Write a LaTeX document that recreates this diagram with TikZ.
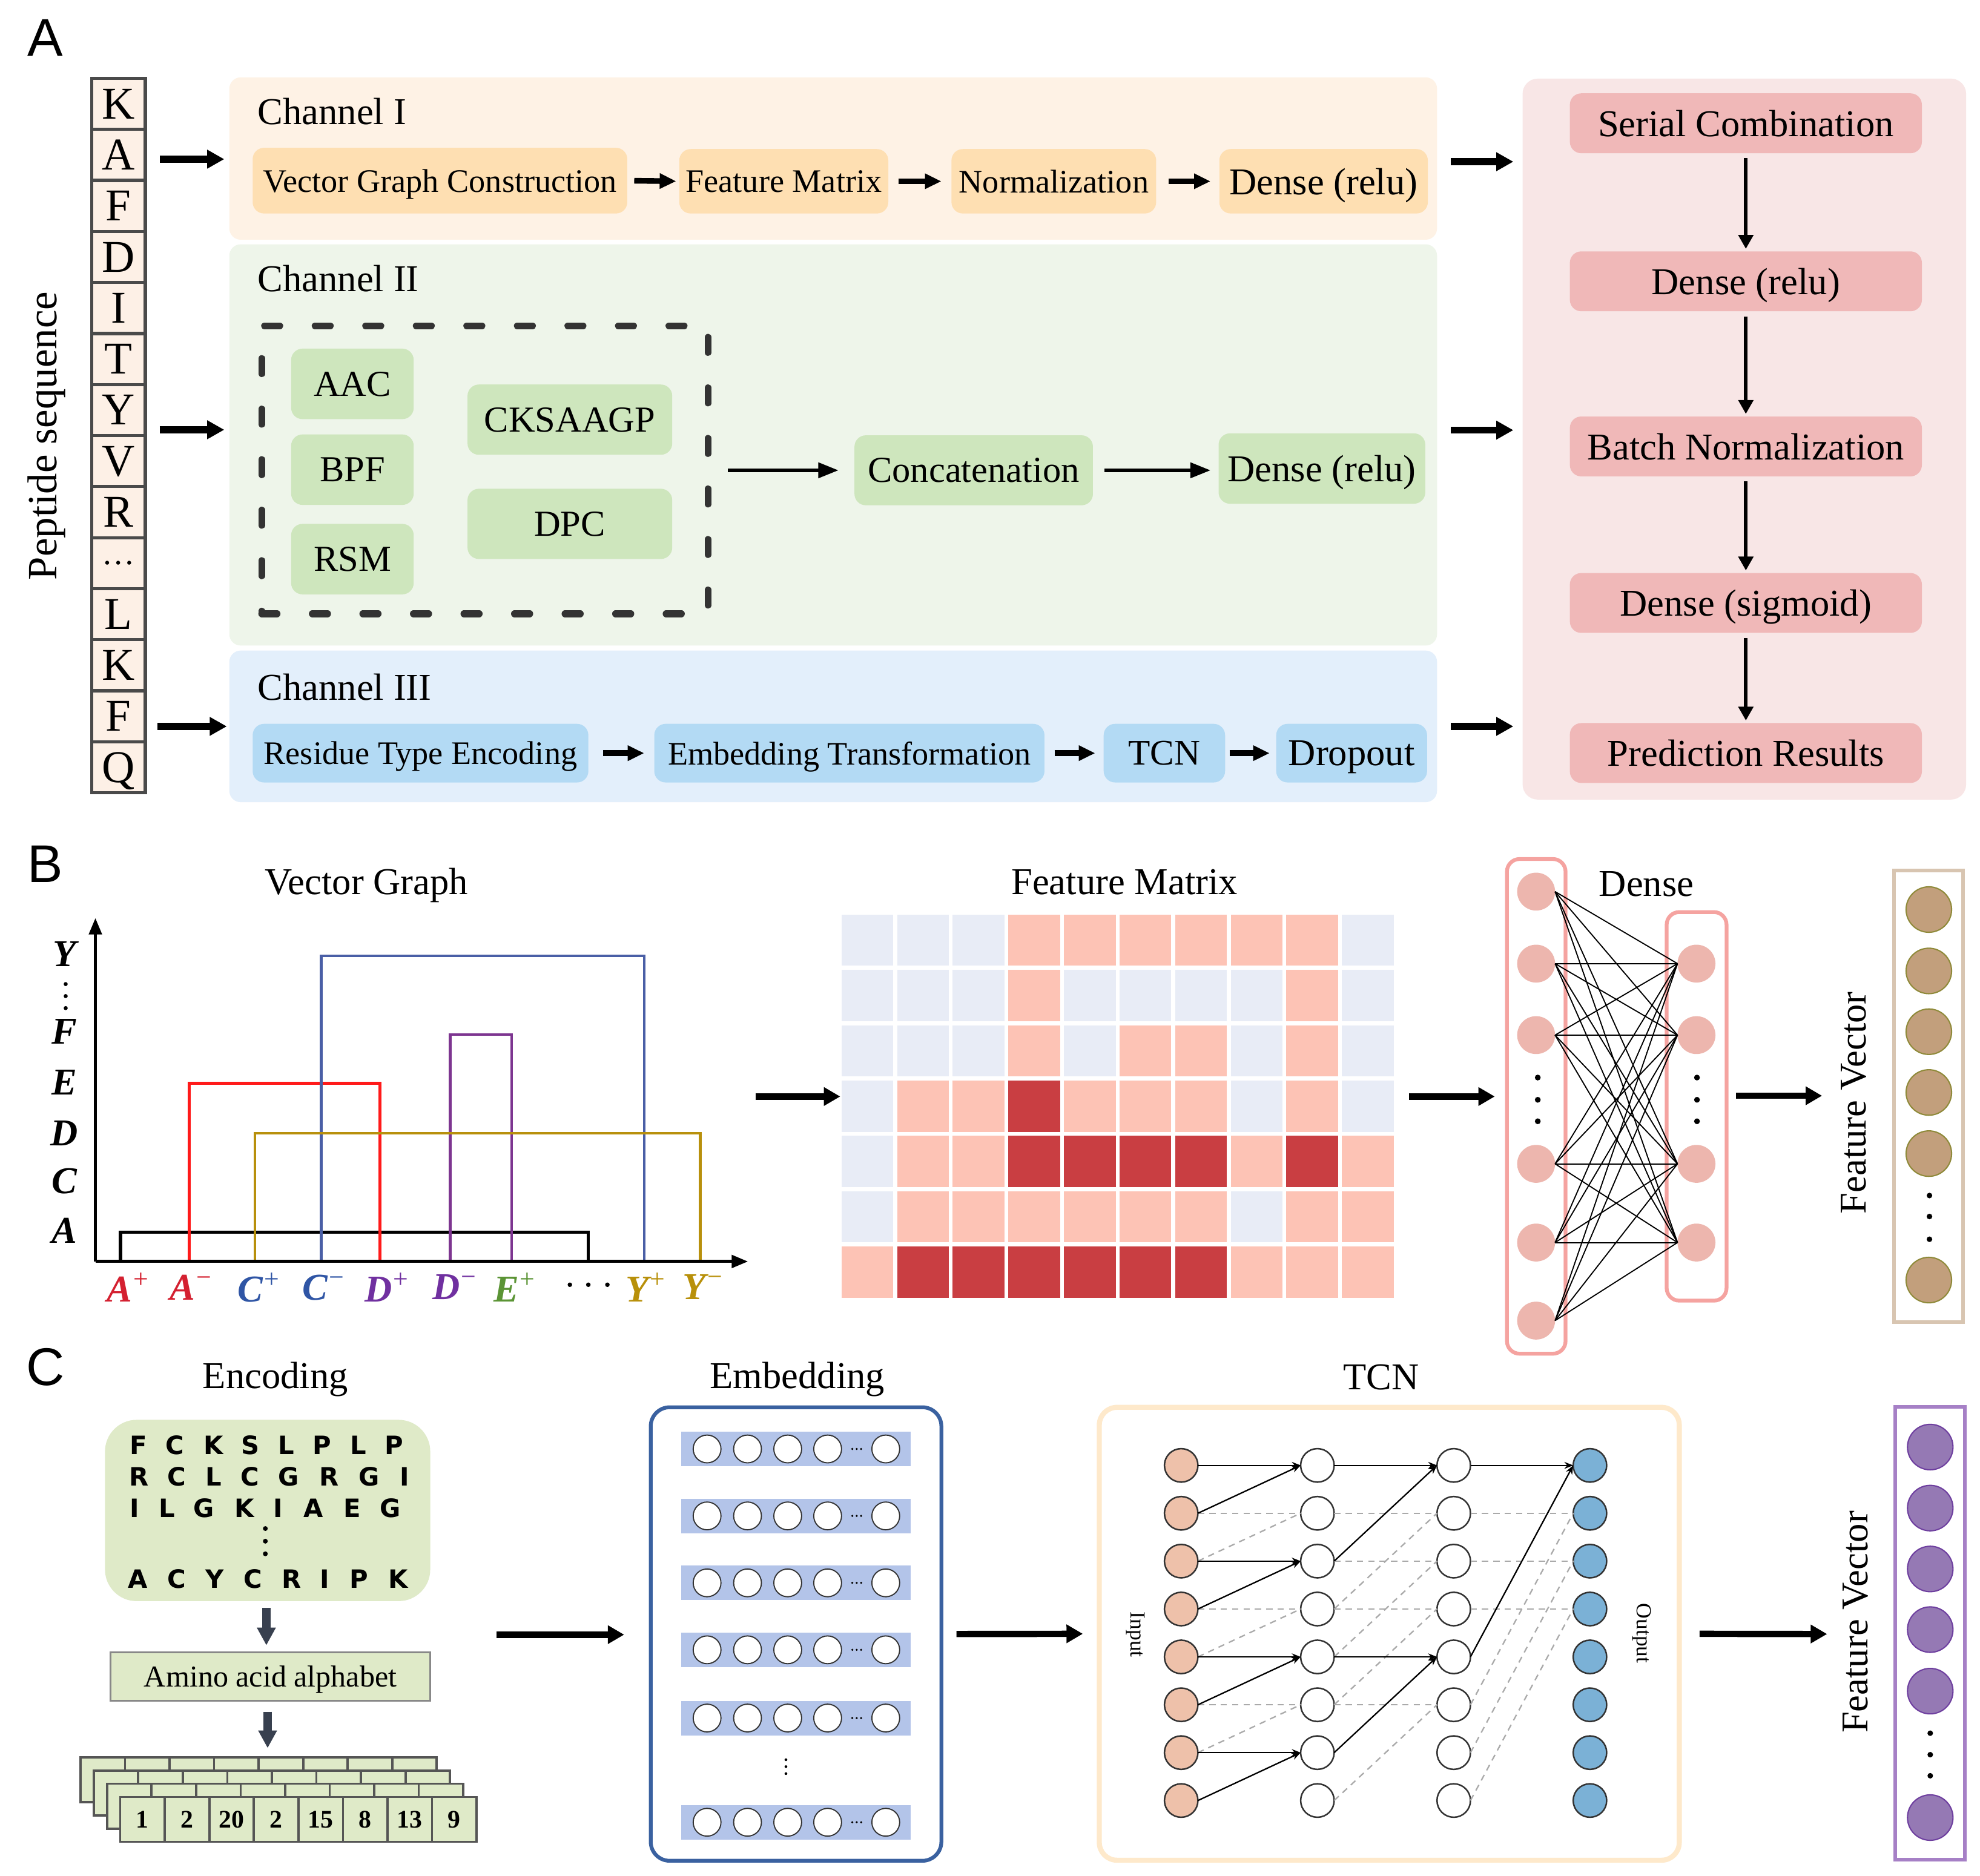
\documentclass[tikz,border=0pt]{standalone}
\usepackage{fontspec}
\setmainfont{Liberation Serif}
\newfontfamily\labelfont{Liberation Sans}
\newfontfamily\encfont{DejaVu Sans}
\usetikzlibrary{arrows.meta,calc}
\newcommand{\fsz}[1]{\fontsize{#1}{#1}\selectfont}
\definecolor{pepfill}{HTML}{FDF0E6}
\definecolor{pepdraw}{HTML}{4A4A4A}
\definecolor{chAbg}{HTML}{FEF2E5}
\definecolor{chAbox}{HTML}{FEDFB2}
\definecolor{chBbg}{HTML}{EEF5EA}
\definecolor{chBbox}{HTML}{CEE6BD}
\definecolor{chCbg}{HTML}{E3EFFB}
\definecolor{chCbox}{HTML}{B3DAF4}
\definecolor{rpbg}{HTML}{F8E6E6}
\definecolor{rpbox}{HTML}{F0B8B8}
\definecolor{dashc}{HTML}{333333}
\definecolor{mL}{HTML}{E8ECF6}
\definecolor{mS}{HTML}{FDC3B5}
\definecolor{mR}{HTML}{C93E42}
\definecolor{dcirc}{HTML}{EDB6AE}
\definecolor{dbox}{HTML}{F5A3A0}
\definecolor{fvbox}{HTML}{D8C5B1}
\definecolor{fvcirc}{HTML}{C29F7C}
\definecolor{fvedge}{HTML}{8F8A3A}
\definecolor{encg}{HTML}{DFEAC8}
\definecolor{slate}{HTML}{38404F}
\definecolor{embc}{HTML}{3A61A0}
\definecolor{embband}{HTML}{B3C4E9}
\definecolor{tcnc}{HTML}{FEE9CB}
\definecolor{tcnin}{HTML}{EEC1AA}
\definecolor{tcnout}{HTML}{7BB1D6}
\definecolor{tcnedge}{HTML}{333333}
\definecolor{pvbox}{HTML}{A680C6}
\definecolor{pvfill}{HTML}{9579B4}
\definecolor{pvedge}{HTML}{6E3F9F}
\definecolor{vgred}{HTML}{FF1A1A}
\definecolor{vggold}{HTML}{B8900C}
\definecolor{vgblue}{HTML}{4A5FA6}
\definecolor{vgpurp}{HTML}{7D3590}
\definecolor{lbred}{HTML}{D42030}
\definecolor{lbblue}{HTML}{2F55A5}
\definecolor{lbpurp}{HTML}{7030A0}
\definecolor{lbgreen}{HTML}{5B9435}
\definecolor{lbgold}{HTML}{B8900A}
\definecolor{cardd}{HTML}{555555}
\definecolor{alphd}{HTML}{888888}
\definecolor{dashg}{HTML}{AAAAAA}
\begin{document}
\begin{tikzpicture}[x=1pt,y=-1pt,
  every node/.style={inner sep=0pt,outer sep=0pt},
  rbox/.style={rounded corners=9pt,text depth=0pt},
  pepcell/.style={draw=pepdraw,line width=2.5pt,fill=pepfill,minimum width=42.5pt,minimum height=40.4pt,text depth=0pt,font=\fsz{36}},
  bigarr/.style={line width=5.5pt,-{Triangle[length=13.5pt,width=14pt]}},
  smarr/.style={line width=4.5pt,-{Triangle[length=13pt,width=11.5pt]}},
  thinarr/.style={line width=2.6pt,-{Triangle[length=16pt,width=12pt]}},
  varr/.style={line width=3pt,-{Triangle[length=11pt,width=11.5pt]}},
  secarr/.style={line width=5pt,-{Triangle[length=13pt,width=14pt]}},
  darr/.style={line width=6.5pt,slate,-{Triangle[length=14pt,width=14pt]}},
  solidedge/.style={line width=1.1pt,-{Stealth[length=7pt,width=5.5pt]}},
  dashedge/.style={line width=1.1pt,dashg,dash pattern=on 5pt off 4pt},
  tnode/.style={circle,draw=tcnedge,line width=1.2pt,minimum size=26.5pt},
]
\useasboundingbox (0,0) rectangle (1567,1485);
\fill[white] (0,0) rectangle (1567,1485);

% ================= A =================
\node[font=\labelfont\fsz{42}] (labA) at (36,30) {A};
\foreach \l [count=\i from 0] in {K,A,F,D,I,T,Y,V,R}{
  \node[pepcell] (pep\i) at (93.8,{82.2+40.4*\i}) {\l};
}
\node[pepcell] (pep9) at (93.8,{82.2+40.4*9}) {};
\node[font=\fsz{26}] (pepdots) at (pep9.center) {…};
\foreach \l [count=\i from 10] in {L,K,F,Q}{
  \node[pepcell] (pep\i) at (93.8,{82.2+40.4*\i}) {\l};
}
\node[rotate=90,font=\fsz{33}] (pepname) at (37,345) {Peptide sequence};

\node[fill=chAbg,rbox,minimum width=955.8pt,minimum height=128.5pt] (ch1) at (659.4,125.5) {};
\node[fill=chBbg,rbox,minimum width=955.8pt,minimum height=317.6pt] (ch2) at (659.4,352.2) {};
\node[fill=chCbg,rbox,minimum width=955.8pt,minimum height=120pt] (ch3) at (659.4,575) {};
\node[fill=rpbg,rounded corners=12pt,minimum width=351pt,minimum height=570.7pt] (rp) at (1380.5,347.6) {};
\node[anchor=west,font=\fsz{30}] (ch1t) at (204,88) {Channel I};
\node[anchor=west,font=\fsz{30}] (ch2t) at (204,220.6) {Channel II};
\node[anchor=west,font=\fsz{30}] (ch3t) at (204,544) {Channel III};

% channel I
\node[fill=chAbox,rbox,minimum width=296.5pt,minimum height=52pt,font=\fsz{26}] (vgc) at (348.2,143) {Vector Graph Construction};
\node[fill=chAbox,rbox,minimum width=165.4pt,minimum height=51pt,font=\fsz{26}] (fm) at (620.3,143.5) {Feature Matrix};
\node[fill=chAbox,rbox,minimum width=162pt,minimum height=51pt,font=\fsz{26}] (nrm) at (834,143.5) {Normalization};
\node[fill=chAbox,rbox,minimum width=165pt,minimum height=51pt,font=\fsz{30}] (dA) at (1047.5,143.5) {Dense (relu)};
\draw[smarr,shorten <=5.5pt,shorten >=2.5pt] (vgc.east) -- (fm.west);
\draw[smarr,shorten <=8pt,shorten >=8pt] (fm.east) -- (nrm.west);
\draw[smarr,shorten <=10pt,shorten >=7pt] (nrm.east) -- (dA.west);

% channel II
\node[draw=dashc,line width=5.5pt,dash pattern=on 12pt off 28pt,line cap=round,minimum width=353.2pt,minimum height=227.8pt] (dbox) at (383.8,371.9) {};
\node[fill=chBbox,rbox,minimum width=97pt,minimum height=55.8pt,font=\fsz{29}] (aac) at (278.9,303.9) {AAC};
\node[fill=chBbox,rbox,minimum width=97pt,minimum height=55.8pt,font=\fsz{29}] (bpf) at (278.9,371.8) {BPF};
\node[fill=chBbox,rbox,minimum width=97pt,minimum height=55.8pt,font=\fsz{29}] (rsm) at (278.9,442.6) {RSM};
\node[fill=chBbox,rbox,minimum width=162pt,minimum height=55.6pt,font=\fsz{29}] (cks) at (451,332.2) {CKSAAGP};
\node[fill=chBbox,rbox,minimum width=162pt,minimum height=55.6pt,font=\fsz{29}] (dpc) at (451,414.7) {DPC};
\node[fill=chBbox,rbox,minimum width=188.7pt,minimum height=55.4pt,font=\fsz{29}] (conc) at (770.6,372.3) {Concatenation};
\node[fill=chBbox,rbox,minimum width=163.6pt,minimum height=55.7pt,font=\fsz{30}] (dB) at (1046.2,370.9) {Dense (relu)};
\draw[thinarr,shorten <=15.6pt,shorten >=12.7pt] (dbox.east |- conc.west) -- (conc.west);
\draw[thinarr,shorten <=9pt,shorten >=6.4pt] (conc.east) -- (dB.west |- conc.east);

% channel III
\node[fill=chCbox,rbox,minimum width=265.7pt,minimum height=46.4pt,font=\fsz{26}] (rte) at (332.8,596.2) {Residue Type Encoding};
\node[fill=chCbox,rbox,minimum width=308.8pt,minimum height=46.4pt,font=\fsz{26}] (emt) at (672.2,596.2) {Embedding Transformation};
\node[fill=chCbox,rbox,minimum width=96.1pt,minimum height=46.4pt,font=\fsz{28.5}] (tcnA) at (921.5,596.2) {TCN};
\node[fill=chCbox,rbox,minimum width=119.4pt,minimum height=46.4pt,font=\fsz{30}] (drop) at (1069.7,596.2) {Dropout};
\draw[smarr,shorten <=11.8pt,shorten >=8pt] (rte.east) -- (emt.west);
\draw[smarr,shorten <=8pt,shorten >=6.7pt] (emt.east) -- (tcnA.west);
\draw[smarr,shorten <=3.7pt,shorten >=5.2pt] (tcnA.east) -- (drop.west);

% peptide arrows
\draw[bigarr] ($(pep0.east |- ch1.west)+(11.4,0.5)$) -- ($(ch1.west)+(-4,0.5)$);
\draw[bigarr] ($(pep0.east |- ch2.west)+(11.4,-12)$) -- ($(ch2.west)+(-4,-12)$);
\draw[bigarr] ($(pep0.east |- ch3.west)+(9.6,0)$) -- ($(ch3.west)+(-2,0)$);
% to right panel
\draw[bigarr] ($(ch1.east)+(11,2.5)$) -- ($(rp.west |- ch1.east)+(-7.3,2.5)$);
\draw[bigarr] ($(ch2.east)+(11,-11.7)$) -- ($(rp.west |- ch2.east)+(-7.3,-11.7)$);
\draw[bigarr] ($(ch3.east)+(11,0)$) -- ($(rp.west |- ch3.east)+(-7.3,0)$);

% right panel
\foreach \t/\y [count=\i] in {Serial Combination/97.6,Dense (relu)/222.7,Batch Normalization/353.4,Dense (sigmoid)/477.3,Prediction Results/596.1}{
  \node[fill=rpbox,rbox,minimum width=278.6pt,minimum height=47.4pt,font=\fsz{30}] (rp\i) at (1381.7,\y) {\t};
}
\foreach \i/\j in {1/2,2/3,3/4,4/5} \draw[varr,shorten <=4pt,shorten >=2pt] (rp\i.south) -- (rp\j.north);

% ================= B =================
\node[font=\labelfont\fsz{42}] (labB) at (36,684) {B};
\node[font=\fsz{30}] (vgt) at (290,701) {Vector Graph};
\coordinate (O) at (75.5,998.6);
\coordinate (xend) at (592,998.6);
\coordinate (yend) at (75.5,726.7);
\draw[line width=2.6pt,black] (95.4,998.6) |- (465.6,975.4) -- (465.6,998.6);
\draw[vgred,line width=2.2pt] (149.8,998.6) |- (300.8,857.6) -- (300.8,998.6);
\draw[vgblue,line width=2.2pt] (254.3,998.6) |- (509.8,756.6) -- (509.8,998.6);
\draw[vgpurp,line width=2.2pt] (356.4,998.6) |- (404.9,819) -- (404.9,998.6);
\draw[vggold,line width=2.2pt] (201.8,998.6) |- (554.3,897) -- (554.3,998.6);
\draw[line width=2.5pt,-{Triangle[length=13pt,width=10pt]}] (O) -- (xend);
\draw[line width=2.5pt,-{Triangle[length=13pt,width=10pt]}] (O) -- (yend);
\foreach \t/\y [count=\i] in {Y/755,F/816.5,E/856.7,D/897,C/935,A/974}
  \node[font=\bfseries\itshape\fsz{30}] (yl\i) at (51,\y) {\t};
\foreach \y in {779,788.5,798} \fill (52,\y) circle (1.6pt);
\foreach \t/\x/\c/\s [count=\i] in {A/101/lbred/+,A/151/lbred/−,C/204.6/lbblue/+,C/256/lbblue/−,D/306/lbpurp/+,D/359.5/lbpurp/−,E/407/lbgreen/+,Y/510.6/lbgold/+,Y/556/lbgold/−}
  \node[font=\fsz{30},text=\c,text depth=0pt] (xl\i) at (\x,1019) {\bfseries\itshape \t\hspace{1pt}\raisebox{11pt}{\normalfont\fsz{21}\s}};
\foreach \x in {451,465.6,480.7} \fill (\x,1017) circle (1.8pt);

% feature matrix
\node[font=\fsz{30}] (fmt) at (890,698) {Feature Matrix};
\foreach \row [count=\i from 0] in {{L,L,L,S,S,S,S,S,S,L},{L,L,L,S,L,L,L,L,S,L},{L,L,L,S,L,S,S,L,S,L},{L,S,S,R,S,S,S,L,S,L},{L,S,S,R,R,R,R,S,R,S},{L,S,S,S,S,S,S,L,S,S},{S,R,R,R,R,R,R,S,S,S}}{
  \foreach \c [count=\j from 0] in \row {
    \node[fill=m\c,minimum width=41pt,minimum height=40.5pt] (mc\i-\j) at ({686.5+44*\j},{744.25+43.8*\i}) {};
  }
}
\coordinate (b1s) at (598,868);
\draw[secarr,shorten >=1pt] (b1s) -- (b1s -| mc3-0.west);

% dense
\node[font=\fsz{30}] (denset) at (1303,700) {Dense};
\node[draw=dbox,line width=3pt,rounded corners=10pt,minimum width=46.4pt,minimum height=391.6pt] (dlbox) at (1215.8,875.8) {};
\node[draw=dbox,line width=3pt,rounded corners=10pt,minimum width=47.4pt,minimum height=307.6pt] (drbox) at (1342.7,875.8) {};
\foreach \y [count=\i] in {705.8,762.8,819.4,921.3,983.6,1045.4} \node[circle,fill=dcirc,minimum size=30pt] (dl\i) at (1215.7,\y) {};
\foreach \y [count=\i] in {762.8,819.4,921.3,983.6} \node[circle,fill=dcirc,minimum size=30pt] (dr\i) at (1342.6,\y) {};
\foreach \i in {1,...,6} \foreach \j in {1,...,4} \draw[line width=0.9pt] (dl\i.east) -- (dr\j.west);
\foreach \y in {853,870.6,887.6} {\fill (1217,\y) circle (2.3pt); \fill (1343,\y) circle (2.3pt);}
\coordinate (b2s) at (1115,868);
\draw[secarr,shorten >=9.6pt] (b2s) -- (b2s -| dlbox.west);
\coordinate (b3s) at (1374,867.4);
\coordinate (b3e) at (1442,867.4);
\draw[secarr] (b3s) -- (b3e);

\node[rotate=90,font=\fsz{30}] (fvtB) at (1467,873) {Feature Vector};
\node[draw=fvbox,line width=3pt,minimum width=54.5pt,minimum height=357.6pt] (fvB) at (1526.2,867.8) {};
\foreach \y [count=\i] in {720,768.6,816.7,864.8,913.2,1013.3} \node[circle,fill=fvcirc,draw=fvedge,line width=1pt,minimum size=36pt] (fvb\i) at (1526.5,\y) {};
\foreach \y in {946.4,963,981} \fill (1527,\y) circle (2.2pt);

% ================= C =================
\node[font=\labelfont\fsz{42}] (labC) at (36,1082) {C};
\node[font=\fsz{30}] (enct) at (218,1092) {Encoding};
\node[font=\fsz{30}] (embt) at (631,1092) {Embedding};
\node[font=\fsz{30}] (tcnt) at (1093,1090) {TCN};

% encoding
\node[fill=encg,rounded corners=25pt,minimum width=257.4pt,minimum height=143.5pt] (seqbox) at (211.8,1195.7) {};
\foreach \t/\x [count=\i] in {F/109.5,C/138.5,K/169,S/198,L/226.5,P/254.7,L/283.7,P/312}
  \node[font=\encfont\bfseries\fsz{20}] (ea\i) at (\x,1144) {\t};
\foreach \t/\x [count=\i] in {R/110,C/140,L/169,C/198,G/228.6,R/260.7,G/292,I/320}
  \node[font=\encfont\bfseries\fsz{20}] (eb\i) at (\x,1169) {\t};
\foreach \t/\x [count=\i] in {I/106.7,L/132,G/161.5,K/193.6,I/220,A/248,E/279,G/309}
  \node[font=\encfont\bfseries\fsz{20}] (ec\i) at (\x,1194) {\t};
\foreach \t/\x [count=\i] in {A/109,C/140,Y/170,C/200,R/231,I/257,P/284,K/315}
  \node[font=\encfont\bfseries\fsz{20}] (ed\i) at (\x,1250) {\t};
\foreach \y in {1210,1220,1230} \fill (210,\y) circle (1.9pt);
\node[draw=alphd,line width=1.5pt,fill=encg,minimum width=253pt,minimum height=38.3pt,text depth=0pt,font=\fsz{24}] (alpha) at (214,1327.2) {Amino acid alphabet};
\draw[darr,shorten <=5.5pt,shorten >=5.6pt] ($(seqbox.south)+(-1,0)$) -- ($(seqbox.south |- alpha.north)+(-1,0)$);
\foreach \l in {0,1,2} \foreach \k in {0,...,7}
  \node[draw=cardd,line width=1.8pt,fill=encg,minimum width=35.25pt,minimum height=35.5pt] (cd\l-\k) at ({81.3+10.5*\l+35.25*\k},{1408.75+10.5*\l}) {};
\foreach \n [count=\k from 0] in {1,2,20,2,15,8,13,9}
  \node[draw=cardd,line width=1.8pt,fill=encg,minimum width=35.25pt,minimum height=35.5pt,font=\bfseries\fsz{20}] (cd3-\k) at ({81.3+31.5+35.25*\k},{1408.75+31.5}) {\n};
\draw[darr,shorten <=8.6pt,shorten >=7.2pt] ($(alpha.south)+(-2.2,0)$) -- ($(alpha.south |- cd0-0.north)+(-2.2,0)$);

% embedding
\node[draw=embc,line width=3pt,rounded corners=15pt,minimum width=230pt,minimum height=359pt] (embbox) at (630,1293.5) {};
\foreach \y [count=\i] in {1147,1200,1253,1306,1360,1442.5}{
  \node[fill=embband,minimum width=181.5pt,minimum height=27.3pt] (band\i) at (629.8,\y) {};
  \foreach \x [count=\j] in {559.6,591.6,623.4,655,701}
    \node[circle,draw=black!80,line width=0.9pt,fill=white,minimum size=22pt] (eo\i-\j) at (\x,\y) {};
  \foreach \dx in {-3.5,0,3.5} \fill ({678+\dx},\y) circle (0.9pt);
}
\foreach \y in {1393,1398.5,1404} \fill (622,\y) circle (1.1pt);
\coordinate (c1s) at (393,1294);
\draw[secarr,shorten >=21pt] (c1s) -- (c1s -| embbox.west);

% TCN
\node[draw=tcnc,line width=4pt,rounded corners=14pt,minimum width=459pt,minimum height=358.5pt] (tcnbox) at (1099.5,1293.3) {};
\foreach \r in {0,...,7}{
  \node[tnode,fill=tcnin] (t0-\r) at (934.8,{1160+37.9*\r}) {};
  \node[tnode,fill=white] (t1-\r) at (1042.6,{1160+37.9*\r}) {};
  \node[tnode,fill=white] (t2-\r) at (1150.5,{1160+37.9*\r}) {};
  \node[tnode,fill=tcnout] (t3-\r) at (1258.3,{1160+37.9*\r}) {};
}
\foreach \a/\b in {0-1/1-1,0-2/1-1,0-3/1-3,0-4/1-3,0-5/1-5,0-6/1-5,1-1/2-1,1-3/2-1,1-2/2-2,1-4/2-2,1-3/2-3,1-5/2-3,1-5/2-5,1-7/2-5,2-1/3-1,2-5/3-1,2-2/3-2,2-6/3-2,2-3/3-3,2-7/3-3}
  \draw[dashedge] (t\a.east) -- (t\b.west);
\foreach \a/\b in {0-0/1-0,0-1/1-0,0-2/1-2,0-3/1-2,0-4/1-4,0-5/1-4,0-6/1-6,0-7/1-6,1-0/2-0,1-2/2-0,1-4/2-4,1-6/2-4,2-0/3-0,2-4/3-0}
  \draw[solidedge] (t\a.east) -- (t\b.west);
\node[rotate=-90,font=\fsz{17}] (inlab) at (898.5,1294) {Input};
\node[rotate=-90,font=\fsz{17}] (outlab) at (1299.5,1293) {Output};
\draw[secarr,shorten <=12pt,shorten >=13pt] (embbox.east) -- (tcnbox.west);
\coordinate (c3e) at (1446,1293.5);
\draw[secarr,shorten <=16pt] (tcnbox.east) -- (c3e);

% feature vector C
\node[rotate=90,font=\fsz{30}] (fvtC) at (1468.6,1284) {Feature Vector};
\node[draw=pvbox,line width=3pt,minimum width=55.2pt,minimum height=358.4pt] (fvC) at (1527.4,1292.8) {};
\foreach \y [count=\i] in {1145.5,1193.8,1242,1290,1338.7,1438.8} \node[circle,fill=pvfill,draw=pvedge,line width=1pt,minimum size=36pt] (fvc\i) at (1527.6,\y) {};
\foreach \y in {1372,1389,1405.7} \fill (1527.6,\y) circle (2.2pt);
\end{tikzpicture}
\end{document}
